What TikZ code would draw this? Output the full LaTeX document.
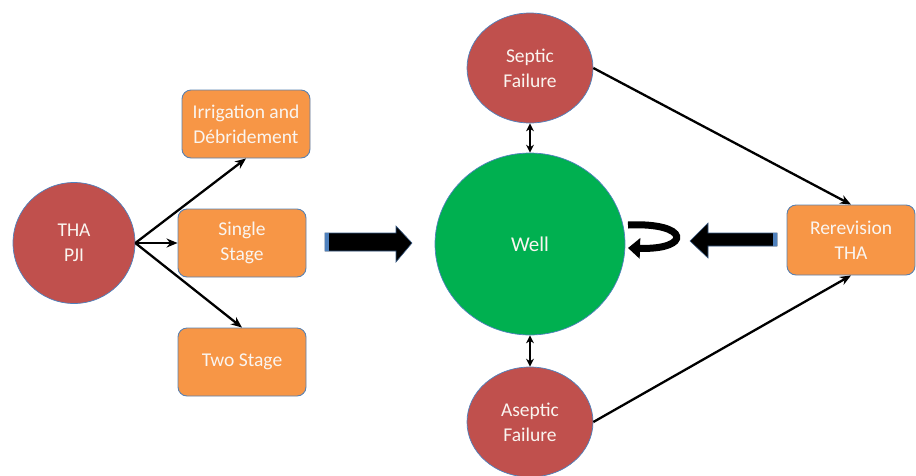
\documentclass[tikz,border=0pt]{standalone}
\usepackage{fontspec}
\setmainfont{Carlito}
\usetikzlibrary{arrows.meta,shapes.geometric}
\definecolor{cred}{RGB}{192,80,77}
\definecolor{corange}{RGB}{247,150,70}
\definecolor{cgreen}{RGB}{0,176,80}
\definecolor{cedge}{RGB}{79,129,189}
\definecolor{ctext}{RGB}{250,245,240}
\begin{document}
\begin{tikzpicture}[x=1pt,y=-1pt,
  redc/.style={ellipse, fill=cred, draw=cedge, line width=0.7pt, text=ctext,
    font=\fontsize{19.5}{25}\selectfont, align=center, inner sep=0pt},
  obox/.style={rectangle, rounded corners=9pt, fill=corange, draw=cedge!80!gray,
    line width=0.9pt, minimum width=128pt, minimum height=68pt, text=ctext,
    align=center, font=\fontsize{19.5}{25}\selectfont, inner sep=0pt},
  arr/.style={-{Stealth[length=11pt,width=9pt]}, line width=2.3pt},
  darr/.style={{Stealth[length=8pt,width=8pt]}-{Stealth[length=8pt,width=8pt]}, line width=2.3pt},
  blockarr/.style={fill=black, draw=cedge!70!black, line width=0.6pt, line join=miter}]
\useasboundingbox (0,0) rectangle (916,475);

% nodes
\node[redc, minimum width=122pt, minimum height=121pt] (pji) at (74,243) {THA\\PJI};
\node[obox] (irr) at (246,124) {Irrigation and\\Débridement};
\node[obox] (single) at (242,243) {Single\\Stage};
\node[obox] (two) at (242,362) {Two Stage};
\node[ellipse, fill=cgreen, draw=cedge, line width=0.7pt, minimum width=190pt,
  minimum height=182pt, inner sep=0pt, text=ctext, font=\fontsize{21}{25}\selectfont] (well) at (530,244) {Well};
\node[redc, minimum width=126pt, minimum height=110pt] (septic) at (530,68) {Septic\\Failure};
\node[redc, minimum width=126pt, minimum height=110pt] (aseptic) at (530,422) {Aseptic\\Failure};
\node[obox, minimum height=70pt] (rerev) at (851,240) {Rerevision\\THA};

% connectors
\draw[arr] (pji.east) -- (irr.south);
\draw[arr] (pji.east) -- (single.west);
\draw[arr] (pji.east) -- (two.north);
\draw[darr] (septic.south) -- (well.north);
\draw[darr] (well.south) -- (aseptic.north);
\draw[arr] (septic.east) -- (rerev.north);
\draw[arr] (aseptic.east) -- (rerev.south);

% big block arrows
\draw[blockarr] (325,233) -- (396,233) -- (396,226) -- (412,243) -- (396,262)
  -- (396,251) -- (325,251) -- cycle;
\fill[cedge] (325,233) rectangle (329,251);
\draw[blockarr] (777,233) -- (708,233) -- (708,223) -- (690,241) -- (708,258)
  -- (708,246) -- (777,246) -- cycle;
\fill[cedge] (773,233) rectangle (777,246);

% curved return arrow
\draw[line width=7pt, -{Triangle[length=12pt,width=20pt]}]
  (628,225) .. controls (690,222) and (692,250) .. (628,248);
\end{tikzpicture}
\end{document}
